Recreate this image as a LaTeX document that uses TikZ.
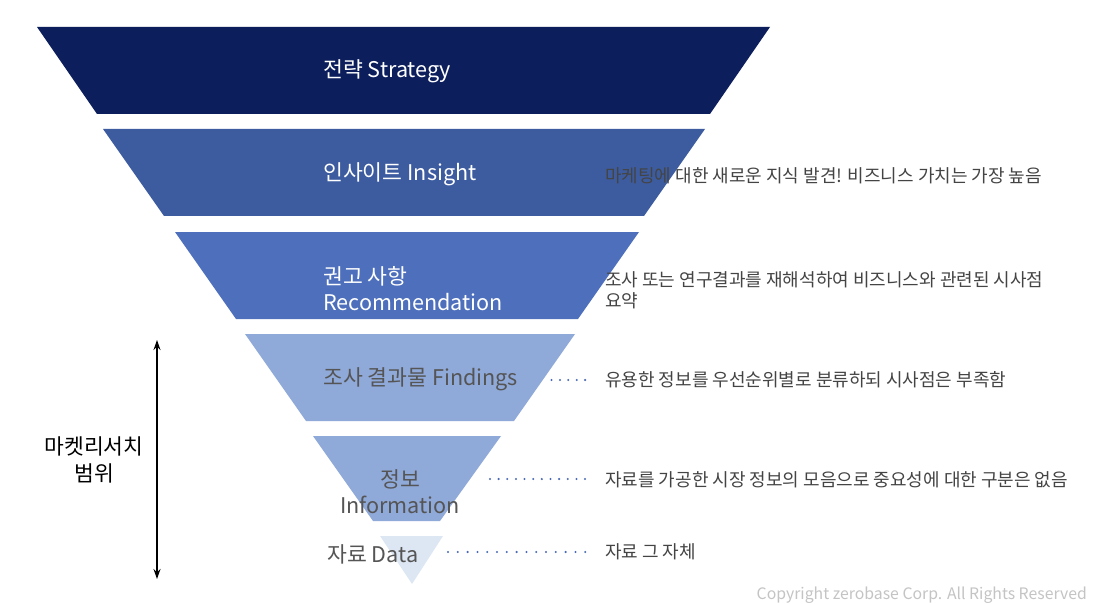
\documentclass[tikz,border=0pt]{standalone}
\usepackage{fontspec}
\setmainfont{Noto Sans CJK KR}
\usetikzlibrary{arrows.meta}
\definecolor{cStrat}{HTML}{0C1F5C}
\definecolor{cIns}{HTML}{3D5CA0}
\definecolor{cRec}{HTML}{4E70BC}
\definecolor{cFind}{HTML}{8FA9D9}
\definecolor{cData}{HTML}{DDE7F3}
\definecolor{cDot}{HTML}{4A6AB5}
\definecolor{cDesc}{HTML}{444444}
\definecolor{cGrayLab}{HTML}{555555}
\definecolor{cCopy}{HTML}{C4C4C4}
\begin{document}
\begin{tikzpicture}[x=1pt,y=-1pt,
  lab/.style={inner sep=0pt, font=\fontsize{21.6}{26}\selectfont},
  desc/.style={inner sep=0pt, anchor=west, text=cDesc, align=left, font=\fontsize{18}{21}\selectfont},
  dotline/.style={cDot, line width=2.3pt, line cap=round}
]
\useasboundingbox[fill=white] (0,0) rectangle (1100,604);
% funnel layers
\fill[cStrat] (37,27) -- (770,27) -- (710,114) -- (97,114) -- cycle;
\fill[cIns] (103,129) -- (705,129) -- (644,216) -- (164,216) -- cycle;
\fill[cRec] (175,232) -- (639,232) -- (578,319) -- (236,319) -- cycle;
\fill[cFind] (245,334) -- (575,334) -- (514,421) -- (306,421) -- cycle;
\fill[cFind] (313,436) -- (501,436) -- (440,521) -- (373,521) -- cycle;
\fill[cData] (380,536) -- (443,536) -- (412,584) -- cycle;
% labels
\node[lab, anchor=west, text=white] (strat) at (323,71.5) {전략 Strategy};
\node[lab, anchor=west, text=white] (ins) at (323,174.5) {인사이트 Insight};
\node[lab, anchor=west, text=white, align=left] (rec) at (323,288.5) {권고 사항\\Recommendation};
\node[lab, anchor=west, text=cGrayLab] (find) at (323,379.5) {조사 결과물 Findings};
\node[lab, text=cGrayLab, align=center] (info) at (400,491.5) {정보\\Information};
\node[lab, anchor=west, text=cGrayLab] (data) at (327,554) {자료 Data};
% descriptions
\node[desc] (dIns) at (605,176) {마케팅에 대한 새로운 지식 발견! 비즈니스 가치는 가장 높음};
\node[desc] (dRec) at (605,290) {조사 또는 연구결과를 재해석하여 비즈니스와 관련된 시사점\\요약};
\node[desc] (dFind) at (605,380) {유용한 정보를 우선순위별로 분류하되 시사점은 부족함};
\node[desc] (dInfo) at (605,480) {자료를 가공한 시장 정보의 모음으로 중요성에 대한 구분은 없음};
\node[desc] (dData) at (605,552) {자료 그 자체};
% dotted leaders
\coordinate (sFind) at (551.5,380);
\coordinate (sInfo) at (490,479);
\coordinate (sData) at (448,552);
\draw[dotline, dash pattern=on 0pt off 8.4pt] (sFind) -- ([xshift=-19pt]dFind.west |- sFind);
\draw[dotline, dash pattern=on 0pt off 8.64pt] (sInfo) -- ([xshift=-19pt]dInfo.west |- sInfo);
\draw[dotline, dash pattern=on 0pt off 9.8pt] (sData) -- ([xshift=-19pt]dData.west |- sData);
% scope arrow
\coordinate (aTop) at (157,340);
\coordinate (aBot) at (157,579);
\draw[{Stealth[length=10pt,width=7pt]}-{Stealth[length=10pt,width=7pt]}, line width=1.3pt] (aTop) -- (aBot);
\node[inner sep=0pt, align=center, font=\fontsize{21.5}{27}\selectfont] (scope) at (94,460) {마켓리서치\\범위};
% copyright
\node[inner sep=0pt, anchor=east, text=cCopy, font=\fontsize{15.8}{18}\selectfont] (copy) at (1087,595) {Copyright zerobase Corp. All Rights Reserved};
\end{tikzpicture}
\end{document}
